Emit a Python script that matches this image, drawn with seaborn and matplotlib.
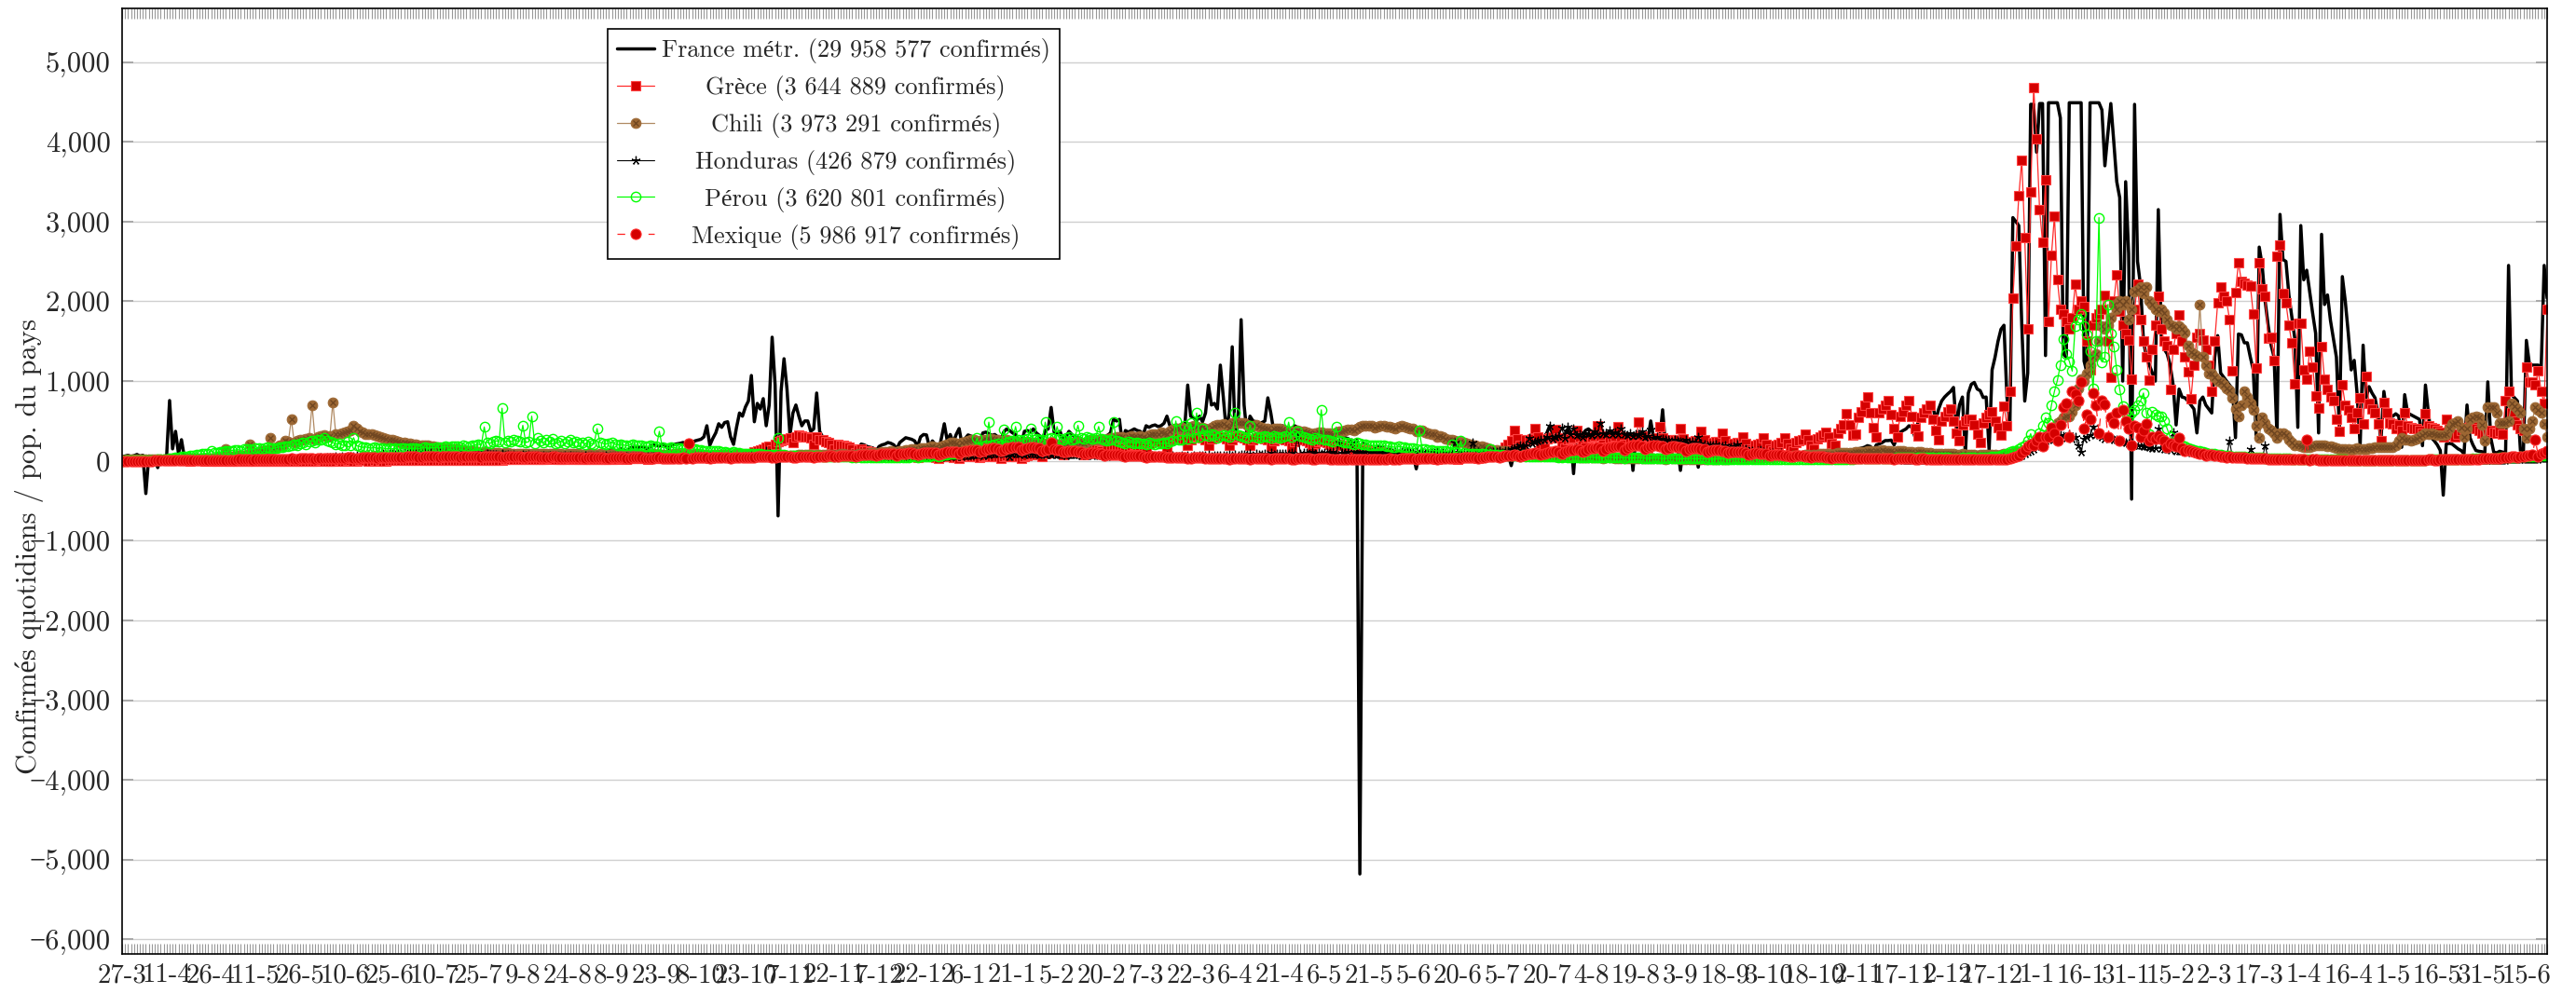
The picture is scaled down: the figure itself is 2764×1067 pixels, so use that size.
import numpy as np
import matplotlib
matplotlib.use("Agg")
import matplotlib.pyplot as plt
from matplotlib.ticker import MultipleLocator, FuncFormatter
import seaborn as sns

# Daily confirmed cases per million inhabitants, one value per day starting 27-3-2020
france = [
    50, 60, 70, 55, 65, 80, 60, 70, -410, 60, 40, 30, -85, 50,
    40, 60, 756, 150, 370, 90, 265, 40, 30, 20, 35, 25, 20, 15,
    20, 15, 10, 15, 10, 12, 8, 10, 12, 8, 5, 10, 8, 6,
    5, 8, 6, 4, 5, 7, 4, 4, 3, 5, 4, 6, 3, 4,
    5, 4, 3, 5, 4, 6, 5, 4, 5, 3, 4, 6, 5, 4,
    5, 6, 4, 5, 7, 6, 5, 6, 5, 4, 6, 7, 6, 5,
    6, 7, 5, 6, 8, 7, 6, 8, 7, 6, 8, 10, 9, 8,
    9, 8, 7, 9, 11, 10, 9, 10, 9, 8, 11, 13, 12, 11,
    13, 12, 10, 14, 16, 15, 14, 16, 14, 12, 17, 20, 19, 18,
    20, 18, 15, 22, 26, 25, 24, 28, 25, 20, 30, 35, 34, 33,
    40, 38, 30, 45, 55, 52, 50, 60, 55, 45, 70, 80, 78, 75,
    90, 85, 70, 100, 110, 105, 100, 120, 110, 90, 125, 140, 130, 125,
    150, 140, 110, 160, 170, 165, 160, 180, 170, 130, 180, 200, 190, 185,
    210, 190, 150, 200, 207, 215, 220, 230, 210, 160, 220, 250, 260, 270,
    300, 440, 195, 280, 350, 465, 420, 480, 490, 300, 207, 420, 600, 560,
    675, 750, 1070, 490, 720, 650, 780, 440, 700, 1550, 950, -690, 870, 1280,
    900, 320, 600, 700, 560, 440, 500, 500, 370, 400, 850, 370, 300, 250,
    200, 180, 150, 210, 230, 190, 170, 180, 160, 110, 150, 210, 200, 180,
    170, 160, 120, 180, 200, 210, 230, 220, 200, 150, 230, 260, 290, 280,
    270, 250, 180, 300, 330, 325, 170, 250, 200, 120, 280, 465, 250, 330,
    230, 330, 405, 200, 280, 325, 310, 300, 280, 250, 350, 360, 340, 320,
    330, 300, 250, 360, 400, 380, 350, 330, 250, 230, 370, 380, 360, 400,
    350, 320, 250, 380, 400, 670, 360, 350, 370, 260, 300, 370, 330, 300,
    290, 280, 230, 290, 300, 290, 280, 300, 290, 230, 320, 350, 520, 500,
    520, 200, 380, 360, 380, 400, 380, 370, 330, 440, 420, 440, 450, 430,
    440, 470, 560, 440, 430, 450, 440, 440, 420, 950, 560, 540, 500, 560,
    490, 600, 950, 700, 720, 650, 1200, 800, 370, 600, 1430, 290, 500, 1770,
    700, 325, 560, 500, 490, 450, 480, 500, 790, 600, 370, 350, 400, 440,
    420, 380, 300, 440, 420, 400, 380, 370, 330, 250, 370, 380, 360, 350,
    370, 350, 240, 330, 320, 300, 290, 280, 250, 180, 260, -5180, 220, 200,
    190, 170, 120, 180, 170, 160, 140, 130, 110, 80, 120, 110, 100, 90,
    85, 70, -100, 80, 75, 70, 60, 55, 50, 30, 50, 55, 50, 45,
    45, 40, 25, 45, 50, 45, 40, 40, 35, 25, 40, 45, 45, 50,
    55, 50, 30, 60, 70, 80, -60, 100, 120, 90, 150, 180, 200, 230,
    250, 260, 200, 300, 350, 440, 330, 350, 340, 300, 330, 385, 320, -160,
    350, 340, 330, 380, 400, 370, 360, 400, 320, 300, 340, 360, 330, 320,
    310, 300, 250, 290, 300, -120, 280, 270, 260, 200, 260, 500, 280, 260,
    250, 640, 180, 230, 220, 200, 190, -120, 180, 130, 170, 160, 150, -80,
    140, 130, 100, 130, 120, 110, 100, 100, 95, 70, 100, 95, 90, 85,
    85, 80, 60, 85, 80, 75, 75, 75, 70, 50, 75, 80, 75, 75,
    80, 75, 55, 80, 90, 85, 85, 90, 85, 60, 90, 95, 90, 95,
    95, 90, 65, 100, 110, 105, 110, 120, 115, 80, 130, 150, 160, 170,
    190, 180, 120, 200, 212, 230, 254, 254, 260, 200, 300, 358, 380, 400,
    440, 420, 300, 480, 560, 560, 600, 650, 712, 500, 650, 750, 800, 837,
    870, 920, 400, 700, 800, 87, 850, 960, 983, 900, 880, 794, 800, 130,
    1140, 1300, 1500, 1650, 1700, 800, 440, 3050, 3000, 2950, 1700, 750, 1100, 4470,
    4470, 3870, 4480, 4480, 1320, 4490, 4490, 4490, 4490, 4300, 1340, 1300, 4490, 4490,
    4490, 4490, 4490, 1250, 1100, 4490, 4490, 4490, 4490, 4400, 3700, 4100, 4480, 4000,
    3500, 3300, 1000, 3500, 2600, -480, 4470, 2500, 2200, 1500, 1300, 1200, 1100, 1000,
    3150, 1570, 1400, 1340, 1200, 950, 450, 900, 800, 790, 750, 700, 650, 350,
    750, 800, 700, 650, 600, 1300, 1570, 1100, 1050, 1000, 950, 900, 290, 1590,
    1580, 1480, 1480, 1300, 1140, 290, 2680, 2450, 2000, 1700, 1450, 1300, 290, 3090,
    2525, 2500, 2080, 1800, 1530, 420, 2950, 2270, 2390, 2120, 1850, 1600, 350, 2840,
    1960, 2080, 1760, 1530, 1300, 400, 2310, 2000, 1600, 1140, 1260, 830, 190, 1450,
    790, 930, 850, 790, 600, 250, 870, 600, 580, 560, 590, 560, 170, 830,
    600, 580, 560, 540, 520, 190, 950, 600, 290, 250, 200, 130, -430, 210,
    220, 210, 180, 150, 130, 90, 700, 290, 200, 130, 120, 115, 100, 990,
    290, 110, 100, 120, 110, 100, 2450, 830, 790, 750, 130, 110, 1510, 1220,
    1200, 1200, 1200, 1180, 2450, 2040,
]

grece = [
    8, 7, 9, 6, 8, 10, 7, 9, 6, 5, 7, 8, 5, 6,
    4, 5, 3, 6, 4, 5, 3, 4, 3, 2, 3, 5, 4, 3,
    2, 3, 1, 2, 2, 3, 1, 2, 1, 1, 2, 1, 2, 1,
    1, 2, 1, 1, 2, 1, 1, 1, 1, 0, 1, 2, 1, 1,
    1, 1, 1, 2, 1, 1, 2, 2, 1, 1, 2, 3, 2, 2,
    2, 1, 2, 3, 2, 2, 3, 3, 2, 2, 4, 3, 3, 2,
    2, 3, 2, 3, 2, 2, 3, 3, 4, 3, 5, 4, 4, 5,
    5, 4, 3, 6, 5, 6, 5, 6, 5, 4, 6, 7, 6, 7,
    7, 6, 5, 8, 9, 10, 9, 10, 9, 7, 11, 12, 11, 12,
    13, 12, 10, 15, 16, 18, 17, 20, 19, 15, 22, 24, 25, 23,
    24, 22, 18, 25, 27, 26, 24, 25, 23, 18, 24, 26, 25, 24,
    24, 22, 17, 23, 25, 24, 23, 22, 20, 16, 22, 25, 26, 25,
    28, 26, 20, 30, 32, 33, 31, 32, 30, 24, 32, 34, 35, 33,
    34, 32, 26, 35, 38, 36, 35, 38, 36, 28, 40, 45, 46, 44,
    48, 45, 36, 52, 58, 60, 58, 65, 60, 48, 70, 80, 85, 82,
    95, 90, 70, 110, 130, 140, 150, 170, 180, 140, 210, 240, 250, 260,
    280, 290, 230, 300, 320, 310, 300, 300, 290, 210, 300, 270, 260, 240,
    230, 210, 150, 210, 200, 190, 180, 170, 150, 100, 140, 150, 130, 120,
    110, 100, 70, 90, 100, 90, 85, 80, 75, 55, 80, 85, 80, 75,
    70, 65, 45, 60, 70, 65, 60, 50, 45, 30, 50, 60, 55, 50,
    45, 40, 30, 50, 70, 65, 60, 60, 55, 40, 60, 70, 65, 60,
    55, 50, 35, 55, 65, 60, 55, 55, 50, 35, 60, 70, 75, 80,
    80, 75, 55, 85, 100, 105, 110, 110, 100, 75, 115, 130, 140, 130,
    120, 110, 80, 120, 140, 150, 145, 140, 130, 100, 150, 175, 180, 175,
    170, 160, 120, 180, 200, 210, 200, 200, 190, 140, 220, 250, 260, 250,
    240, 220, 170, 250, 280, 300, 290, 280, 260, 190, 270, 300, 310, 300,
    290, 270, 200, 280, 310, 320, 305, 300, 280, 200, 270, 300, 310, 295,
    290, 270, 190, 260, 290, 300, 285, 280, 260, 180, 250, 280, 290, 280,
    270, 250, 170, 240, 260, 270, 260, 250, 230, 160, 220, 240, 250, 240,
    230, 210, 140, 190, 210, 200, 190, 180, 160, 100, 150, 160, 150, 140,
    130, 110, 70, 100, 110, 100, 90, 80, 70, 45, 65, 70, 65, 60,
    55, 50, 30, 45, 50, 48, 45, 42, 40, 25, 38, 42, 40, 38,
    40, 38, 25, 40, 45, 48, 50, 55, 52, 35, 60, 70, 80, 90,
    100, 110, 80, 130, 170, 210, 250, 385, 280, 200, 150, 260, 270, 280,
    405, 300, 210, 160, 280, 290, 300, 395, 290, 200, 160, 270, 280, 290,
    380, 300, 200, 170, 290, 300, 310, 445, 310, 210, 170, 290, 300, 310,
    430, 300, 210, 160, 280, 290, 300, 485, 310, 200, 160, 270, 280, 290,
    430, 290, 190, 150, 260, 270, 270, 410, 280, 180, 140, 240, 250, 250,
    367, 260, 170, 130, 230, 240, 240, 347, 250, 160, 130, 220, 230, 230,
    300, 220, 150, 120, 200, 210, 220, 290, 210, 150, 120, 200, 210, 230,
    290, 220, 160, 130, 230, 250, 270, 330, 260, 190, 150, 280, 300, 320,
    360, 300, 220, 190, 350, 400, 450, 590, 450, 320, 340, 550, 620, 700,
    800, 600, 420, 300, 600, 650, 700, 760, 580, 400, 300, 560, 620, 700,
    755, 560, 400, 310, 540, 600, 650, 700, 520, 380, 270, 500, 560, 620,
    650, 500, 350, 250, 450, 500, 520, 525, 450, 330, 230, 480, 540, 580,
    610, 500, 420, 320, 690, 444, 872, 2040, 2690, 3320, 3770, 2800, 1650, 3370,
    4685, 4040, 3150, 2740, 3520, 1750, 2580, 3070, 2270, 1900, 1840, 1750, 1650, 1800,
    2210, 1900, 2000, 1940, 1500, 1140, 1700, 1800, 1840, 1900, 2080, 1500, 1050, 2000,
    2330, 1880, 1700, 1600, 1510, 1030, 1900, 2210, 1770, 1500, 1300, 1010, 1400, 1700,
    2060, 1650, 1500, 1440, 890, 1400, 1600, 1825, 1500, 1300, 1120, 775, 1200, 1550,
    1600, 1510, 1400, 1200, 870, 1500, 1980, 2175, 2060, 2000, 1775, 1125, 2115, 2490,
    2250, 2230, 2200, 2195, 1845, 1165, 2490, 2155, 2060, 1535, 1550, 1260, 2565, 2710,
    2100, 1980, 1700, 1475, 970, 1730, 1730, 1145, 1030, 1380, 1180, 810, 660, 1435,
    1030, 890, 800, 755, 520, 365, 950, 700, 640, 550, 405, 600, 795, 465,
    1065, 715, 650, 600, 465, 250, 735, 600, 480, 465, 405, 450, 380, 600,
    445, 420, 400, 405, 380, 350, 590, 445, 420, 400, 380, 360, 300, 520,
    400, 325, 300, 330, 380, 400, 420, 450, 430, 400, 380, 350, 330, 360,
    380, 360, 350, 365, 340, 755, 870, 600, 500, 450, 400, 380, 1180, 990,
    990, 950, 1125, 870, 715, 1900,
]

chili = [
    10, 12, 14, 15, 16, 14, 16, 18, 17, 20, 22, 24, 22, 23,
    25, 24, 22, 26, 27, 25, 24, 25, 27, 28, 26, 30, 32, 30,
    28, 30, 32, 35, 38, 40, 42, 150, 55, 60, 58, 62, 65, 70,
    80, 210, 90, 100, 110, 120, 130, 140, 290, 150, 170, 190, 200, 250,
    240, 520, 230, 250, 270, 260, 280, 290, 700, 270, 300, 310, 320, 300,
    310, 735, 330, 340, 350, 360, 370, 380, 440, 400, 370, 360, 340, 330,
    330, 320, 310, 300, 290, 280, 270, 260, 250, 240, 230, 230, 220, 220,
    210, 210, 200, 200, 190, 190, 180, 180, 175, 170, 165, 160, 155, 150,
    150, 145, 140, 135, 130, 125, 120, 115, 110, 105, 110, 108, 105, 100,
    100, 98, 95, 100, 98, 95, 92, 95, 92, 88, 90, 92, 90, 88,
    90, 88, 85, 88, 90, 88, 85, 88, 85, 80, 85, 88, 86, 84,
    85, 82, 78, 84, 86, 85, 82, 84, 80, 75, 80, 85, 84, 82,
    80, 78, 72, 78, 82, 80, 78, 80, 78, 70, 78, 85, 82, 80,
    82, 80, 72, 80, 86, 84, 82, 84, 82, 74, 80, 85, 84, 82,
    80, 78, 70, 76, 80, 78, 76, 76, 74, 66, 72, 76, 74, 72,
    72, 70, 62, 70, 74, 72, 70, 70, 68, 60, 68, 72, 70, 70,
    72, 70, 62, 72, 76, 75, 74, 76, 74, 66, 76, 80, 80, 78,
    78, 76, 70, 80, 85, 84, 82, 80, 78, 72, 85, 90, 92, 95,
    100, 98, 90, 105, 110, 115, 118, 120, 118, 110, 125, 130, 135, 140,
    145, 150, 140, 155, 160, 165, 170, 180, 175, 160, 185, 200, 210, 230,
    230, 220, 200, 230, 240, 250, 260, 260, 250, 230, 260, 270, 275, 280,
    270, 260, 240, 250, 260, 250, 245, 240, 230, 210, 230, 240, 235, 230,
    225, 220, 200, 220, 225, 220, 215, 210, 205, 190, 215, 225, 230, 235,
    240, 235, 220, 245, 255, 260, 265, 270, 265, 250, 275, 285, 290, 295,
    300, 295, 280, 305, 310, 300, 300, 310, 300, 290, 320, 330, 340, 340,
    360, 350, 330, 370, 390, 400, 410, 420, 410, 390, 430, 440, 430, 420,
    420, 400, 380, 420, 440, 450, 455, 460, 440, 420, 470, 490, 480, 480,
    470, 450, 420, 440, 450, 430, 420, 410, 400, 380, 400, 410, 400, 390,
    380, 370, 350, 370, 380, 370, 365, 360, 350, 330, 350, 360, 355, 350,
    350, 345, 330, 355, 370, 375, 380, 390, 395, 380, 410, 430, 440, 440,
    445, 440, 420, 430, 440, 435, 430, 425, 420, 400, 430, 440, 430, 420,
    410, 400, 370, 380, 380, 360, 350, 340, 330, 300, 310, 300, 280, 270,
    260, 250, 230, 240, 230, 220, 210, 200, 190, 170, 180, 170, 160, 150,
    140, 135, 120, 125, 120, 110, 105, 100, 95, 85, 90, 85, 80, 78,
    75, 72, 65, 70, 68, 65, 62, 60, 58, 52, 58, 56, 54, 52,
    50, 48, 44, 48, 47, 45, 44, 42, 40, 36, 40, 40, 38, 37,
    36, 35, 31, 34, 34, 33, 32, 31, 30, 27, 30, 30, 29, 28,
    28, 27, 24, 27, 27, 26, 26, 25, 25, 22, 25, 25, 24, 24,
    24, 23, 20, 24, 25, 25, 25, 25, 24, 21, 26, 28, 30, 32,
    33, 34, 30, 36, 38, 40, 42, 45, 46, 42, 48, 52, 55, 58,
    60, 62, 55, 64, 68, 70, 72, 74, 76, 70, 78, 82, 84, 86,
    88, 90, 82, 92, 96, 98, 100, 102, 105, 96, 108, 112, 115, 118,
    120, 122, 112, 125, 130, 132, 130, 128, 126, 115, 124, 126, 122, 118,
    115, 110, 100, 108, 110, 105, 100, 98, 95, 86, 92, 94, 90, 88,
    86, 84, 76, 82, 84, 80, 78, 76, 75, 68, 74, 76, 75, 74,
    75, 76, 70, 80, 85, 90, 95, 100, 110, 100, 120, 140, 160, 180,
    200, 220, 210, 260, 300, 340, 380, 420, 480, 500, 540, 560, 560, 620,
    700, 910, 1030, 1000, 1100, 1200, 1300, 1340, 1500, 1690, 1650, 1700, 1800, 1960,
    1900, 2000, 1960, 2000, 1770, 1900, 2120, 2150, 2175, 2100, 2175, 2000, 1960, 1900,
    1880, 1900, 1850, 1770, 1700, 1690, 1650, 1690, 1650, 1610, 1450, 1360, 1340, 1320,
    1960, 1300, 1200, 1100, 1100, 1050, 1000, 990, 950, 910, 880, 795, 650, 560,
    700, 870, 800, 715, 640, 445, 290, 540, 470, 405, 380, 350, 290, 345,
    345, 320, 270, 230, 190, 200, 180, 170, 170, 170, 180, 190, 190, 190,
    190, 185, 180, 170, 160, 150, 150, 152, 148, 140, 150, 155, 150, 148,
    150, 160, 165, 170, 170, 170, 170, 170, 175, 170, 200, 250, 290, 270,
    260, 250, 260, 280, 300, 320, 345, 340, 345, 330, 325, 320, 325, 330,
    400, 465, 480, 500, 420, 305, 400, 520, 540, 560, 550, 450, 250, 675,
    670, 675, 600, 480, 480, 480, 500, 715, 680, 650, 600, 400, 290, 405,
    500, 675, 640, 600, 465, 305,
]

honduras = [
    2, 3, 1, 4, 2, 3, 2, 3, 2, 4, 1, 3, 2, 5,
    2, 4, 3, 2, 5, 3, 2, 4, 2, 6, 3, 5, 4, 3,
    5, 3, 6, 4, 5, 7, 4, 6, 8, 5, 7, 9, 6, 8,
    10, 8, 12, 9, 11, 13, 10, 12, 15, 11, 14, 18, 13, 16,
    20, 18, 22, 25, 19, 24, 28, 30, 26, 35, 28, 38, 32, 40,
    45, 40, 50, 42, 55, 48, 60, 58, 52, 65, 60, 70, 62, 75,
    70, 65, 80, 72, 85, 78, 90, 85, 80, 95, 88, 100, 90, 105,
    95, 88, 110, 92, 100, 85, 98, 90, 85, 100, 80, 95, 88, 92,
    85, 80, 95, 78, 90, 82, 88, 80, 75, 90, 72, 85, 78, 82,
    75, 70, 85, 68, 80, 72, 78, 72, 65, 80, 62, 75, 68, 70,
    65, 60, 72, 58, 68, 62, 66, 60, 55, 68, 52, 62, 58, 60,
    58, 52, 65, 50, 60, 55, 58, 55, 50, 62, 48, 58, 52, 56,
    52, 48, 60, 45, 55, 50, 54, 50, 46, 58, 44, 52, 48, 52,
    48, 45, 55, 42, 50, 46, 50, 50, 46, 58, 45, 52, 48, 52,
    52, 48, 60, 46, 55, 50, 54, 55, 50, 62, 48, 58, 52, 56,
    56, 52, 64, 50, 60, 54, 58, 130, 55, 65, 50, 60, 55, 58,
    60, 55, 68, 52, 62, 56, 60, 58, 54, 66, 50, 60, 55, 58,
    55, 50, 62, 48, 56, 52, 54, 52, 48, 60, 45, 54, 50, 52,
    50, 46, 58, 44, 52, 48, 50, 48, 45, 55, 42, 50, 46, 48,
    50, 46, 58, 44, 52, 48, 52, 55, 50, 62, 48, 58, 55, 60,
    65, 60, 75, 58, 70, 65, 72, 80, 75, 90, 70, 85, 80, 88,
    95, 88, 100, 85, 98, 55, 92, 90, 85, 98, 80, 92, 85, 90,
    85, 80, 92, 75, 88, 80, 85, 80, 75, 88, 70, 82, 76, 80,
    75, 70, 82, 65, 78, 72, 75, 70, 65, 78, 60, 72, 68, 70,
    65, 60, 72, 56, 68, 62, 65, 62, 58, 70, 54, 65, 60, 62,
    60, 56, 68, 52, 62, 58, 60, 62, 58, 70, 55, 65, 60, 64,
    66, 62, 75, 58, 70, 65, 68, 72, 68, 82, 64, 76, 70, 75,
    80, 75, 90, 70, 85, 78, 82, 88, 82, 98, 78, 92, 85, 90,
    95, 88, 105, 82, 325, 90, 98, 100, 92, 110, 86, 102, 95, 100,
    105, 98, 115, 90, 230, 100, 105, 110, 230, 118, 92, 110, 102, 108,
    110, 104, 120, 95, 112, 105, 110, 108, 102, 118, 92, 110, 104, 108,
    105, 100, 115, 90, 108, 100, 105, 102, 96, 112, 88, 105, 98, 102,
    100, 230, 110, 86, 104, 96, 100, 230, 100, 115, 90, 110, 102, 108,
    115, 108, 125, 100, 120, 130, 150, 160, 170, 190, 180, 200, 290, 220,
    240, 250, 270, 260, 300, 445, 280, 300, 310, 415, 290, 425, 330, 410,
    320, 340, 300, 350, 330, 320, 365, 340, 480, 350, 330, 385, 340, 360,
    330, 400, 340, 320, 345, 310, 330, 320, 370, 300, 310, 395, 290, 300,
    250, 280, 260, 270, 240, 260, 250, 240, 230, 260, 220, 240, 230, 300,
    220, 210, 200, 200, 190, 210, 180, 180, 200, 160, 170, 180, 210, 150,
    140, 150, 120, 130, 110, 120, 140, 110, 100, 90, 100, 80, 90, 100,
    70, 60, 50, 60, 55, 50, 45, 40, 38, 35, 40, 36, 34, 32,
    30, 28, 25, 30, 28, 26, 25, 25, 22, 20, 24, 22, 20, 20,
    20, 18, 16, 20, 18, 16, 15, 15, 14, 12, 15, 14, 12, 12,
    12, 11, 10, 12, 11, 10, 10, 10, 9, 8, 10, 9, 8, 9,
    10, 9, 8, 10, 12, 11, 12, 14, 12, 10, 15, 18, 16, 20,
    22, 25, 20, 28, 32, 35, 40, 45, 50, 60, 70, 90, 110, 130,
    150, 180, 200, 220, 250, 270, 300, 280, 300, 320, 310, 290, 330, 275,
    300, 190, 110, 280, 300, 320, 425, 340, 320, 300, 280, 300, 290, 270,
    260, 250, 240, 230, 220, 210, 200, 200, 190, 185, 180, 170, 165, 160,
    400, 160, 150, 145, 140, 360, 130, 125, 120, 115, 110, 105, 100, 95,
    90, 85, 80, 75, 70, 65, 60, 55, 50, 45, 250, 40, 38, 36,
    35, 34, 33, 150, 32, 30, 30, 28, 190, 27, 26, 25, 24, 23,
    22, 20, 18, 20, 18, 17, 16, 15, 14, 13, 15, 14, 12, 12,
    11, 10, 9, 11, 10, 9, 9, 8, 8, 7, 8, 8, 7, 7,
    7, 6, 6, 7, 6, 6, 6, 6, 5, 5, 6, 5, 5, 5,
    5, 5, 4, 5, 5, 4, 5, 5, 5, 4, 6, 6, 5, 6,
    6, 6, 5, 7, 7, 6, 7, 8, 8, 7, 9, 9, 8, 10,
    10, 11, 9, 12, 13, 12, 14, 15, 16, 14, 18, 20, 18, 22,
    24, 25, 22, 28, 30, 28,
]

perou = [
    2, 3, 3, 4, 5, 5, 6, 7, 8, 9, 10, 12, 14, 16,
    20, 25, 30, 35, 40, 45, 50, 55, 60, 65, 70, 75, 80, 85,
    90, 95, 130, 100, 105, 110, 115, 120, 125, 130, 135, 140, 130, 145,
    150, 145, 140, 155, 160, 150, 165, 170, 160, 155, 165, 175, 170, 180,
    185, 190, 210, 200, 220, 230, 210, 240, 250, 230, 270, 260, 290, 250,
    240, 230, 210, 220, 200, 190, 240, 200, 290, 190, 180, 170, 175, 165,
    160, 170, 155, 165, 160, 150, 155, 150, 160, 145, 155, 160, 150, 155,
    155, 160, 150, 165, 170, 160, 165, 165, 170, 160, 175, 180, 170, 180,
    185, 180, 175, 190, 185, 180, 190, 200, 210, 195, 425, 230, 220, 240,
    250, 240, 660, 230, 250, 240, 260, 250, 245, 445, 230, 240, 560, 220,
    290, 250, 230, 260, 240, 280, 220, 230, 250, 220, 240, 260, 230, 240,
    220, 230, 210, 240, 220, 210, 405, 230, 220, 210, 220, 230, 210, 200,
    210, 200, 190, 200, 210, 195, 190, 190, 185, 180, 190, 185, 180, 370,
    170, 165, 160, 170, 165, 160, 155, 150, 145, 140, 150, 145, 140, 135,
    130, 125, 120, 130, 125, 120, 115, 110, 105, 100, 110, 105, 100, 95,
    90, 88, 85, 90, 88, 85, 82, 80, 78, 75, 80, 290, 78, 75,
    72, 70, 68, 72, 70, 68, 66, 65, 62, 60, 64, 62, 60, 58,
    56, 55, 52, 56, 55, 52, 50, 50, 48, 46, 50, 48, 46, 45,
    45, 44, 42, 46, 45, 44, 45, 46, 45, 43, 48, 48, 47, 48,
    50, 50, 48, 55, 56, 58, 60, 62, 64, 60, 70, 75, 80, 85,
    90, 95, 90, 110, 120, 130, 140, 150, 290, 160, 180, 190, 485, 200,
    210, 220, 200, 388, 230, 240, 250, 430, 260, 250, 270, 280, 405, 270,
    280, 270, 260, 485, 280, 290, 280, 430, 280, 270, 290, 300, 270, 280,
    445, 290, 280, 300, 290, 280, 290, 430, 280, 270, 250, 260, 485, 250,
    240, 230, 220, 240, 230, 220, 230, 220, 215, 210, 225, 220, 210, 215,
    220, 225, 215, 240, 250, 500, 260, 270, 445, 280, 470, 290, 600, 300,
    410, 320, 310, 330, 320, 290, 310, 320, 310, 300, 330, 600, 320, 310,
    300, 290, 445, 310, 300, 290, 300, 310, 300, 290, 310, 300, 290, 300,
    310, 485, 300, 320, 370, 310, 300, 290, 280, 270, 290, 280, 640, 270,
    260, 250, 240, 425, 250, 240, 230, 225, 220, 210, 225, 215, 210, 205,
    200, 195, 190, 200, 195, 190, 185, 180, 175, 170, 180, 175, 170, 165,
    160, 155, 150, 385, 150, 145, 140, 135, 130, 125, 130, 125, 120, 115,
    210, 110, 105, 250, 100, 95, 92, 90, 88, 85, 88, 85, 82, 150,
    78, 75, 70, 74, 72, 70, 68, 65, 62, 58, 62, 60, 58, 56,
    55, 54, 50, 54, 52, 50, 50, 50, 48, 45, 50, 48, 46, 46,
    46, 45, 42, 46, 45, 44, 44, 45, 44, 40, 45, 44, 42, 42,
    42, 40, 36, 40, 40, 38, 38, 38, 36, 33, 36, 35, 34, 34,
    34, 33, 30, 33, 32, 30, 30, 30, 29, 26, 29, 28, 27, 27,
    27, 26, 23, 26, 25, 24, 24, 24, 23, 21, 24, 23, 22, 22,
    22, 22, 20, 22, 22, 21, 21, 21, 21, 19, 21, 21, 20, 20,
    20, 20, 18, 21, 21, 20, 20, 20, 20, 18, 21, 22, 21, 21,
    22, 22, 20, 23, 24, 23, 23, 24, 24, 22, 26, 28, 27, 28,
    30, 30, 28, 32, 34, 34, 35, 36, 36, 33, 38, 40, 40, 40,
    40, 40, 36, 40, 42, 40, 40, 40, 39, 35, 40, 40, 38, 38,
    37, 36, 33, 37, 38, 37, 38, 38, 38, 35, 40, 42, 43, 45,
    50, 55, 60, 70, 80, 95, 110, 120, 130, 150, 170, 200, 250, 340,
    210, 280, 345, 440, 540, 480, 700, 870, 1010, 1200, 1530, 1340, 1250, 1125,
    1690, 1770, 1845, 1690, 1590, 1380, 910, 1500, 3050, 1240, 1300, 1960, 1600, 1435,
    1140, 900, 680, 600, 560, 600, 640, 700, 750, 850, 600, 330, 620, 580,
    560, 560, 500, 400, 300, 190, 250, 220, 200, 180, 160, 150, 140, 130,
    120, 110, 100, 95, 90, 85, 80, 75, 70, 65, 62, 60, 58, 55,
    52, 50, 48, 46, 44, 42, 40, 38, 36, 34, 33, 32, 30, 29,
    28, 27, 26, 25, 24, 23, 22, 21, 20, 19, 19, 18, 18, 17,
    17, 16, 16, 15, 15, 14, 14, 14, 13, 13, 12, 12, 12, 11,
    11, 11, 10, 10, 10, 10, 9, 9, 9, 9, 9, 10, 10, 10,
    10, 11, 11, 12, 12, 13, 13, 14, 14, 15, 16, 16, 17, 18,
    18, 19, 20, 21, 22, 23, 24, 25, 26, 27, 28, 30, 31, 32,
    34, 35, 36, 38, 40, 42, 44, 45, 46, 48, 50, 52, 54, 56,
    58, 60, 62, 64, 66, 68,
]

mexique = [
    1, 1, 1, 1, 2, 2, 2, 2, 2, 2, 2, 3, 3, 3,
    3, 4, 3, 4, 5, 5, 5, 6, 6, 5, 7, 8, 8, 9,
    9, 9, 8, 10, 11, 11, 12, 12, 12, 10, 13, 14, 14, 15,
    15, 15, 13, 16, 18, 18, 19, 19, 20, 17, 21, 23, 24, 24,
    25, 26, 22, 25, 27, 28, 29, 29, 28, 24, 28, 31, 32, 33,
    33, 32, 27, 32, 36, 37, 38, 38, 37, 31, 36, 40, 42, 43,
    43, 42, 35, 40, 44, 46, 47, 47, 46, 38, 44, 48, 50, 50,
    50, 49, 41, 47, 51, 52, 53, 53, 52, 43, 49, 53, 55, 56,
    56, 54, 45, 50, 54, 56, 57, 57, 55, 46, 50, 54, 55, 56,
    55, 53, 44, 48, 52, 53, 54, 53, 51, 42, 46, 50, 51, 52,
    50, 48, 40, 44, 48, 49, 50, 48, 46, 38, 42, 45, 46, 46,
    45, 43, 35, 39, 42, 43, 43, 42, 40, 33, 37, 40, 41, 41,
    40, 38, 31, 35, 38, 39, 39, 38, 37, 30, 34, 37, 38, 38,
    37, 36, 29, 33, 36, 37, 37, 38, 37, 220, 35, 38, 40, 40,
    41, 40, 33, 38, 42, 44, 45, 45, 44, 36, 42, 46, 48, 48,
    48, 47, 39, 45, 49, 50, 51, 50, 49, 40, 46, 50, 51, 52,
    52, 51, 42, 48, 52, 53, 54, 55, 54, 45, 52, 57, 58, 60,
    62, 61, 50, 58, 64, 66, 68, 70, 69, 56, 66, 74, 76, 78,
    80, 79, 65, 76, 84, 86, 88, 90, 88, 72, 84, 92, 94, 96,
    96, 95, 78, 90, 98, 100, 102, 100, 98, 80, 92, 104, 108, 112,
    115, 112, 92, 110, 125, 130, 135, 140, 138, 112, 130, 145, 150, 155,
    155, 150, 122, 138, 160, 165, 170, 170, 168, 135, 150, 165, 170, 172,
    165, 160, 128, 140, 150, 230, 150, 140, 135, 108, 118, 125, 125, 120,
    115, 110, 88, 95, 100, 100, 98, 92, 88, 70, 76, 80, 80, 78,
    75, 72, 58, 62, 66, 66, 64, 62, 60, 48, 52, 55, 55, 54,
    52, 50, 40, 44, 46, 46, 45, 44, 42, 34, 37, 40, 40, 39,
    38, 36, 29, 32, 34, 34, 33, 32, 30, 25, 28, 30, 30, 30,
    30, 29, 24, 27, 29, 29, 29, 29, 28, 23, 26, 28, 28, 28,
    28, 27, 22, 25, 27, 27, 27, 27, 26, 21, 24, 26, 26, 26,
    26, 25, 20, 23, 25, 25, 25, 25, 24, 19, 22, 24, 24, 24,
    24, 23, 19, 22, 24, 25, 25, 26, 25, 20, 24, 26, 27, 28,
    28, 28, 22, 26, 29, 30, 31, 32, 31, 25, 29, 33, 34, 36,
    37, 36, 29, 34, 39, 42, 44, 46, 45, 36, 42, 48, 52, 55,
    58, 56, 45, 54, 62, 66, 70, 74, 72, 58, 70, 80, 86, 92,
    96, 94, 76, 90, 104, 110, 116, 120, 118, 95, 112, 128, 135, 140,
    144, 140, 112, 130, 150, 158, 164, 166, 162, 130, 150, 170, 176, 180,
    182, 178, 142, 165, 185, 190, 192, 190, 185, 148, 170, 188, 192, 190,
    185, 180, 144, 162, 178, 180, 176, 170, 164, 130, 146, 160, 160, 156,
    150, 144, 114, 128, 140, 140, 135, 128, 122, 96, 108, 118, 118, 114,
    108, 102, 80, 90, 98, 98, 94, 88, 84, 66, 74, 80, 80, 76,
    72, 68, 54, 60, 65, 65, 62, 58, 55, 44, 49, 53, 53, 50,
    47, 45, 36, 40, 43, 43, 41, 39, 37, 30, 33, 36, 36, 34,
    33, 32, 26, 29, 31, 31, 30, 30, 29, 23, 26, 28, 28, 27,
    27, 26, 21, 24, 26, 26, 25, 25, 24, 19, 22, 24, 24, 24,
    24, 23, 18, 21, 23, 23, 23, 23, 22, 18, 21, 23, 23, 22,
    22, 21, 17, 20, 23, 25, 28, 40, 50, 67, 100, 140, 180, 212,
    200, 250, 296, 180, 300, 296, 420, 350, 250, 450, 670, 715, 300, 870,
    840, 755, 995, 400, 580, 525, 850, 700, 350, 755, 712, 300, 550, 480,
    600, 250, 640, 500, 400, 200, 445, 420, 300, 380, 460, 250, 300, 280,
    310, 280, 250, 170, 220, 200, 180, 290, 160, 130, 140, 120, 110, 100,
    95, 85, 70, 80, 75, 70, 65, 60, 55, 45, 50, 48, 45, 42,
    40, 38, 30, 35, 33, 32, 30, 28, 27, 22, 25, 24, 23, 22,
    21, 20, 16, 18, 18, 17, 16, 15, 270, 12, 14, 14, 13, 13,
    12, 12, 10, 11, 12, 12, 12, 11, 11, 9, 10, 11, 11, 11,
    11, 11, 9, 10, 11, 11, 11, 11, 11, 9, 11, 12, 12, 12,
    12, 12, 10, 12, 13, 13, 13, 14, 14, 11, 13, 15, 15, 16,
    17, 17, 14, 17, 19, 20, 21, 23, 23, 18, 22, 26, 28, 30,
    32, 33, 26, 32, 38, 42, 45, 50, 52, 42, 50, 60, 65, 70,
    75, 270, 60, 90, 100, 130,
]

series_labels = [
    "France métr. (29 958 577 confirmés)",
    "Grèce (3 644 889 confirmés)",
    "Chili (3 973 291 confirmés)",
    "Honduras (426 879 confirmés)",
    "Pérou (3 620 801 confirmés)",
    "Mexique (5 986 917 confirmés)",
]

tick_labels = [
    "27-3", "11-4", "26-4", "11-5", "26-5", "10-6", "25-6", "10-7", "25-7",
    "9-8", "24-8", "8-9", "23-9", "8-10", "23-10", "7-11", "22-11", "7-12",
    "22-12", "6-1", "21-1", "5-2", "20-2", "7-3", "22-3", "6-4", "21-4",
    "6-5", "21-5", "5-6", "20-6", "5-7", "20-7", "4-8", "19-8", "3-9",
    "18-9", "3-10", "18-10", "2-11", "17-11", "2-12", "17-12", "1-1", "16-1",
    "31-1", "15-2", "2-3", "17-3", "1-4", "16-4", "1-5", "16-5", "31-5", "15-6",
]

sns.set_style("white")
plt.rcParams["font.family"] = ["cmr10", "Liberation Serif"]
plt.rcParams["axes.unicode_minus"] = True
plt.rcParams["lines.scale_dashes"] = False

fig = plt.figure(figsize=(13.82, 5.335), dpi=200)
ax = fig.add_axes([0.0474, 0.0403, 0.9414, 0.951])


def draw(values, **kw):
    vals = np.asarray(values, dtype=float)
    sns.lineplot(x=np.arange(len(vals)), y=vals, ax=ax, errorbar=None, **kw)
    return ax.lines[-1]


h_fr = draw(france, color="black", linewidth=1.25)
h_gr = draw(grece, color="#ff2a2a", linewidth=0.45, marker="s", markersize=3.9,
            markerfacecolor="#d40000", markeredgecolor="#ff4040", markeredgewidth=0.4)
h_ch = draw(chili, color="#b08a63", linewidth=0.45, marker="o", markersize=3.9,
            markerfacecolor="#9c6733", markeredgecolor="#9c6733", markeredgewidth=0.3)
h_chx, = ax.plot(np.arange(len(chili)), chili, ls="none", marker="x", markersize=2.4,
                 markeredgewidth=0.45, color="#6e4520")
h_ho = draw(honduras, color="black", linewidth=0.4, marker=(5, 2, 0), markersize=3.4,
            markeredgecolor="black", markeredgewidth=0.45)
h_pe = draw(perou, color="#00ff00", linewidth=0.45, marker="o", markersize=3.7,
            markerfacecolor="none", markeredgecolor="#00ff00", markeredgewidth=0.5)
h_mx = draw(mexique, color="#ff2020", linewidth=0.45, marker="o", markersize=4.0,
            markerfacecolor="#d40000", markeredgecolor="#ff3030", markeredgewidth=0.4)
h_mx.set_dashes((3, 3))

ax.set_xlim(0, 817)
ax.set_ylim(-6183, 5670)
ax.set_xticks(range(0, 15 * len(tick_labels), 15))
ax.set_xticklabels(tick_labels)
ax.xaxis.set_minor_locator(MultipleLocator(1))
ax.set_yticks(range(-6000, 5001, 1000))
ax.yaxis.set_major_formatter(FuncFormatter(lambda v, p: f"{v:,.0f}".replace("-", "\u2212")))
ax.tick_params(axis="x", which="both", direction="in", top=True, bottom=True,
               length=3.8, width=0.4, color="#999999", labelsize=10.4, pad=3.5)
ax.tick_params(axis="y", which="major", direction="in", left=True, right=True,
               length=4.2, width=0.7, color="#a8a8a8", labelsize=11, pad=4.5)
ax.grid(axis="y", color="#cfcfcf", linewidth=0.5)
ax.set_axisbelow(True)
for sp in ax.spines.values():
    sp.set_color("black")
    sp.set_linewidth(0.6)
ax.set_xlabel("")
ax.set_ylabel("")

fig.text(32 / 2764, 0.45, "Confirmés quotidiens / pop. du pays", rotation=90,
         ha="center", va="center", fontsize=11)

handles = [h_fr, h_gr, (h_ch, h_chx), h_ho, h_pe, h_mx]
leg = ax.legend(handles, series_labels, loc="upper left", bbox_to_anchor=(0.2002, 0.9789),
                borderaxespad=0, fontsize=9.45, frameon=True, fancybox=False,
                edgecolor="black", framealpha=1, borderpad=0.4, labelspacing=0.49,
                handlelength=1.5, handletextpad=0.3, numpoints=1)
leg.get_frame().set_linewidth(0.6)

# center the legend entries like pgfplots does
fig.canvas.draw()
renderer = fig.canvas.get_renderer()
widths = [t.get_window_extent(renderer).width for t in leg.get_texts()]
wmax = max(widths)
for t, w in zip(leg.get_texts(), widths):
    t.set_position(((wmax - w) / 2, 0))

fig.savefig("out.png", dpi=200)
